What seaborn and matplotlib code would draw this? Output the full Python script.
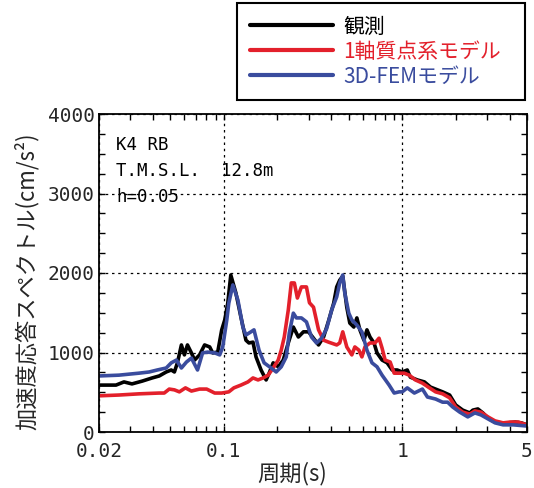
import matplotlib
matplotlib.use("Agg")
import matplotlib.pyplot as plt
import pandas as pd
import seaborn as sns
from matplotlib.ticker import FixedLocator, MultipleLocator, NullFormatter

# ---- data: (period [s], spectral acceleration [cm/s^2]) ----
observed = [
    (0.020, 590), (0.0249, 590), (0.0276, 630), (0.0306, 605), (0.0349, 640),
    (0.0397, 680), (0.0435, 705), (0.0476, 755), (0.0508, 780), (0.0529, 755),
    (0.0550, 870), (0.0579, 1095), (0.0602, 970), (0.0626, 1095), (0.0659, 995),
    (0.0686, 905), (0.0732, 970), (0.0781, 1095), (0.0834, 1070), (0.0867, 995),
    (0.0925, 1005), (0.0974, 1285), (0.1013, 1410), (0.1053, 1620), (0.1095, 1975),
    (0.1169, 1750), (0.1248, 1445), (0.1331, 1155), (0.1384, 1120), (0.1458, 1130),
    (0.1516, 945), (0.1618, 780), (0.1727, 655), (0.1796, 740), (0.1892, 870),
    (0.2019, 820), (0.2154, 905), (0.2299, 1120), (0.2454, 1320), (0.2619, 1195),
    (0.2795, 1260), (0.2983, 1260), (0.3183, 1180), (0.3397, 1095), (0.3625, 1195),
    (0.3869, 1400), (0.4129, 1620), (0.4294, 1825), (0.4464, 1910), (0.4642, 1960),
    (0.4890, 1570), (0.5084, 1370), (0.5355, 1320), (0.5569, 1435), (0.5790, 1285),
    (0.6099, 1155), (0.6342, 1285), (0.6595, 1195), (0.6947, 1120), (0.7223, 995),
    (0.7709, 905), (0.8228, 870), (0.8780, 780), (0.9371, 780), (1.000, 755),
    (1.067, 780), (1.110, 690), (1.215, 655), (1.331, 630), (1.440, 565),
    (1.577, 530), (1.683, 505), (1.843, 465), (1.993, 340), (2.183, 275),
    (2.390, 240), (2.486, 275), (2.653, 290), (2.831, 240), (3.022, 175),
    (3.310, 125), (3.579, 115), (3.920, 115), (4.294, 125), (4.642, 115),
    (5.000, 90),
]

lumped = [
    (0.020, 455), (0.02585, 465), (0.0335, 480), (0.0435, 490), (0.0464, 490),
    (0.0495, 540), (0.0529, 530), (0.0564, 505), (0.0610, 555), (0.0659, 515),
    (0.0732, 540), (0.0802, 540), (0.0890, 490), (0.0974, 490), (0.1067, 505),
    (0.1139, 555), (0.1248, 590), (0.1366, 630), (0.1458, 680), (0.1556, 655),
    (0.1661, 680), (0.1773, 715), (0.1892, 805), (0.2019, 905), (0.2099, 1030),
    (0.2183, 1195), (0.2299, 1535), (0.2390, 1875), (0.2486, 1875), (0.2585, 1685),
    (0.2723, 1825), (0.2906, 1825), (0.3022, 1625), (0.3183, 1570), (0.3397, 1285),
    (0.3625, 1155), (0.3869, 1130), (0.4294, 1095), (0.4464, 1120), (0.4642, 1260),
    (0.4890, 1070), (0.5218, 970), (0.5426, 1070), (0.5715, 1030), (0.5943, 945),
    (0.6180, 1070), (0.6595, 1120), (0.7038, 1120), (0.7413, 1180), (0.7709, 1055),
    (0.8017, 905), (0.8555, 880), (0.9012, 740), (0.9618, 740), (1.026, 740),
    (1.095, 715), (1.184, 655), (1.297, 615), (1.421, 555), (1.537, 505),
    (1.683, 480), (1.843, 430), (1.993, 315), (2.183, 250), (2.390, 225),
    (2.552, 265), (2.759, 250), (3.022, 190), (3.310, 140), (3.673, 115),
    (4.023, 125), (4.464, 125), (5.000, 90),
]

fem3d = [
    (0.020, 705), (0.02585, 715), (0.0335, 740), (0.0382, 755), (0.0424, 780),
    (0.0476, 805), (0.0508, 870), (0.0543, 905), (0.0579, 805), (0.0618, 880),
    (0.0659, 930), (0.0713, 780), (0.0761, 995), (0.0812, 1005), (0.0890, 995),
    (0.0949, 970), (0.0987, 1070), (0.1040, 1410), (0.1067, 1620), (0.1124, 1850),
    (0.1200, 1660), (0.1280, 1320), (0.1331, 1220), (0.1421, 1260), (0.1477, 1285),
    (0.1576, 1030), (0.1683, 870), (0.1843, 805), (0.1967, 755), (0.2099, 820),
    (0.2240, 945), (0.2329, 1245), (0.2454, 1495), (0.2552, 1435), (0.2723, 1435),
    (0.2906, 1385), (0.3101, 1195), (0.3310, 1120), (0.3532, 1180), (0.3770, 1300),
    (0.4023, 1535), (0.4294, 1700), (0.4464, 1875), (0.4642, 1975), (0.4764, 1750),
    (0.5018, 1495), (0.5218, 1410), (0.5569, 1345), (0.5943, 1260), (0.6342, 1030),
    (0.6768, 870), (0.7223, 820), (0.7709, 715), (0.8445, 590), (0.9012, 490),
    (0.9618, 505), (1.000, 505), (1.067, 555), (1.169, 490), (1.297, 540),
    (1.384, 440), (1.537, 415), (1.683, 375), (1.796, 375), (1.916, 315),
    (2.099, 250), (2.329, 190), (2.552, 240), (2.759, 215), (3.022, 165),
    (3.310, 115), (3.673, 90), (4.183, 90), (5.000, 75),
]

series_names = ["観測", "1軸質点系モデル", "3D-FEMモデル"]
series_colors = ["#000000", "#e3202b", "#3a4c9e"]
x_ticks = [0.02, 0.1, 1, 5]
x_tick_labels = ["0.02", "0.1", "1", "5"]
x_minor = [0.03, 0.04, 0.05, 0.06, 0.07, 0.08, 0.09,
           0.2, 0.3, 0.4, 0.5, 0.6, 0.7, 0.8, 0.9, 2, 3, 4]
y_ticks = [0, 1000, 2000, 3000, 4000]
annot_lines = ["K4 RB", "T.M.S.L.  12.8m", "h=0.05"]

frames = []
for name, data in zip(series_names, [observed, lumped, fem3d]):
    d = pd.DataFrame(data, columns=["T", "Sa"])
    d["series"] = name
    frames.append(d)
df = pd.concat(frames, ignore_index=True)

sns.set_style("ticks")
plt.rcParams["font.family"] = ["Noto Sans CJK JP", "DejaVu Sans"]
plt.rcParams["axes.unicode_minus"] = False

W, H = 534, 488
fig = plt.figure(figsize=(W / 100, H / 100), dpi=100)
L, R, T_, B = 99, 527, 114, 432
ax = fig.add_axes([L / W, 1 - B / H, (R - L) / W, (B - T_) / H])

sns.lineplot(data=df, x="T", y="Sa", hue="series", hue_order=series_names,
             palette=series_colors, sort=False, estimator=None,
             linewidth=2.6, ax=ax, legend=False)

ax.set_xscale("log")
ax.set_xlim(0.02, 5)
ax.set_ylim(0, 4000)

mono = ["DejaVu Sans Mono", "DejaVu Sans"]
ax.xaxis.set_major_locator(FixedLocator(x_ticks))
ax.set_xticklabels(x_tick_labels, family=mono, fontsize=14)
ax.xaxis.set_minor_locator(FixedLocator(x_minor))
ax.xaxis.set_minor_formatter(NullFormatter())
ax.yaxis.set_major_locator(FixedLocator(y_ticks))
ax.set_yticklabels([str(v) for v in y_ticks], family=mono, fontsize=14)
ax.yaxis.set_minor_locator(MultipleLocator(250))

ax.tick_params(which="both", direction="in", top=True, right=True,
               length=4.5, width=1.0, color="black")
ax.tick_params(axis="x", pad=7)
ax.tick_params(axis="y", pad=3)

ax.grid(True, which="major", color="black", linewidth=0.9,
        linestyle=(0, (2.0, 3.0)))
for s in ax.spines.values():
    s.set_linewidth(1.3)
    s.set_color("black")

ax.set_xlabel("周期(s)", fontsize=16, va="center")
ax.xaxis.set_label_coords((292 - L) / (R - L), (B - 474) / (B - T_))
ax.set_ylabel("加速度応答スペクトル(cm/s²)", fontsize=16, va="center")
ax.yaxis.set_label_coords((27 - L) / (R - L), (B - 281) / (B - T_))

for txt, yc in zip(annot_lines, [144.5, 171, 197]):
    ax.text((116 - L) / (R - L), (B - yc) / (B - T_), txt,
            transform=ax.transAxes, family=mono, fontsize=12.5,
            va="center", ha="left", color="black")

handles = ax.get_lines()[:3]
leg = fig.legend(handles, series_names, loc="upper left",
                 bbox_to_anchor=(237 / W, 1 - 98 / H, 288 / W, 95 / H),
                 mode="expand", borderaxespad=0, fontsize=15,
                 handlelength=4.0, handletextpad=0.5, borderpad=0.6,
                 labelspacing=0.15, fancybox=False, framealpha=1,
                 edgecolor="black", labelcolor="linecolor")
leg.get_frame().set_linewidth(1.5)
for line in leg.get_lines():
    line.set_linewidth(3)

fig.savefig("out.png", dpi=100)
